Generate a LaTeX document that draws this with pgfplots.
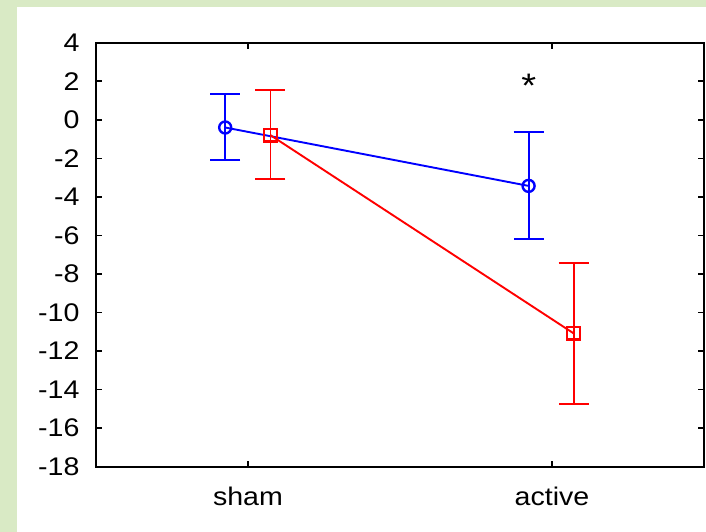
\documentclass[border=0pt]{standalone}
\usepackage{pgfplots}
\pgfplotsset{compat=1.18}
\usepackage{fontspec}
\setmainfont{Liberation Sans}[FakeStretch=1.12]
\definecolor{bggreen}{RGB}{217,234,197}
\begin{document}
\fontsize{25}{30}\selectfont
\begin{tikzpicture}
\fill[bggreen] (0,0) rectangle (706pt,532pt);
\fill[white] (17pt,0) rectangle (706pt,525pt);
\begin{axis}[
  at={(96pt,65.3pt)}, anchor=south west,
  scale only axis, width=608pt, height=424pt,
  xmin=-0.5, xmax=1.5, ymin=-18, ymax=4,
  xtick={0,1}, xticklabels={sham,active},
  ytick={-18,-16,...,4},
  tick align=inside, major tick length=6pt,
  tick style={black, line width=1.5pt},
  axis line style={black, line width=2.2pt},
  /pgf/number format/assume math mode=true,
  ticklabel style={font=\fontsize{25.5}{30}\selectfont},
  yticklabel style={xshift=-8pt},
  xticklabel style={yshift=-12pt},
  clip=false,
]
\addplot[blue, line width=1.9pt, mark=o, mark size=6pt, mark options={line width=2.4pt},
  error bars/.cd, y dir=both, y explicit,
  error bar style={line width=1.9pt}, error mark options={rotate=90, mark size=15pt, line width=1.9pt}]
  table[x=x, y=y, y error plus=ep, y error minus=em] {
x y ep em
-0.075 -0.40 1.76 1.70
0.923 -3.43 2.80 2.76
};
\addplot[red, line width=1.9pt, mark=square, mark size=6.3pt, mark options={line width=2.4pt},
  error bars/.cd, y dir=both, y explicit,
  error bar style={line width=1.9pt}, error mark options={rotate=90, mark size=15pt, line width=1.9pt}]
  table[x=x, y=y, y error plus=ep, y error minus=em] {
x y ep em
0.074 -0.80 2.34 2.28
1.071 -11.08 3.66 3.67
};
\node at (axis cs:0.924,1.78) {\fontsize{34}{40}\selectfont *};
\end{axis}
\end{tikzpicture}
\end{document}
